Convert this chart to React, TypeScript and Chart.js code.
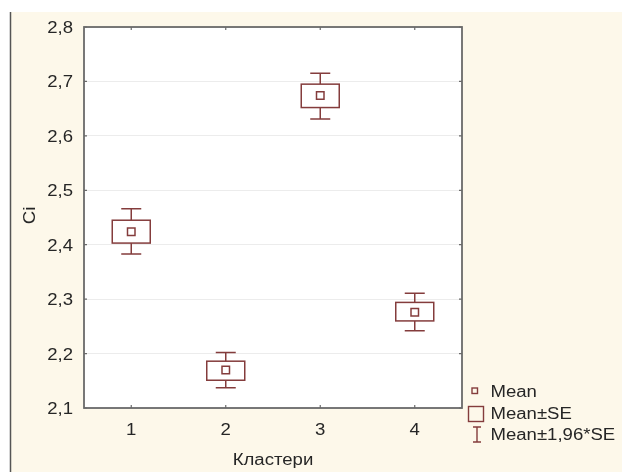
import React, { useEffect, useRef } from "react";
import { Chart, registerables } from "chart.js";

Chart.register(...registerables);

const categories = ["1", "2", "3", "4"];
const means = [2.424, 2.17, 2.674, 2.276];
const seLow = [2.403, 2.151, 2.652, 2.26];
const seHigh = [2.445, 2.186, 2.695, 2.294];
const ciLow = [2.383, 2.137, 2.631, 2.242];
const ciHigh = [2.466, 2.202, 2.715, 2.311];
const legendLabels = ["Mean", "Mean±SE", "Mean±1,96*SE"];
const yTitle = "Ci";
const xTitle = "Кластери";

const MARK = "#843c3c";
const CREAM = "#fdf8ea";
const TEXT = "#262626";
const FONT = "16px 'Liberation Sans', Arial, sans-serif";
const SX = 1.16;

function drawText(ctx: CanvasRenderingContext2D, s: string, x: number, y: number, align: "left" | "center" | "right") {
  ctx.save();
  ctx.font = FONT;
  ctx.fillStyle = TEXT;
  ctx.textBaseline = "alphabetic";
  ctx.textAlign = align;
  ctx.translate(x, y);
  ctx.scale(SX, 1);
  ctx.fillText(s, 0, 0);
  ctx.restore();
}

export default function App() {
  const ref = useRef<HTMLCanvasElement | null>(null);

  useEffect(() => {
    const canvas = ref.current;
    if (!canvas) return;

    const decor = {
      id: "decor",
      beforeDraw(chart: any) {
        const { ctx, chartArea } = chart;
        ctx.save();
        ctx.fillStyle = "#ffffff";
        ctx.fillRect(0, 0, 622, 472);
        ctx.fillStyle = CREAM;
        ctx.fillRect(10, 12, 612, 460);
        ctx.strokeStyle = "#555555";
        ctx.lineWidth = 1.5;
        ctx.beginPath();
        ctx.moveTo(10.5, 12);
        ctx.lineTo(10.5, 472);
        ctx.stroke();
        ctx.fillStyle = "#ffffff";
        ctx.fillRect(chartArea.left, chartArea.top, chartArea.right - chartArea.left, chartArea.bottom - chartArea.top);
        ctx.restore();
      },
      beforeDatasetsDraw(chart: any) {
        const { ctx } = chart;
        const xs = chart.scales.x;
        const ys = chart.scales.y;
        ctx.save();
        ctx.strokeStyle = MARK;
        ctx.lineWidth = 1.5;
        categories.forEach((_, i) => {
          const x = xs.getPixelForValue(i);
          const yCiH = ys.getPixelForValue(ciHigh[i]);
          const yCiL = ys.getPixelForValue(ciLow[i]);
          const ySeH = ys.getPixelForValue(seHigh[i]);
          const ySeL = ys.getPixelForValue(seLow[i]);
          const bw = 38;
          const cw = 20;
          ctx.beginPath();
          ctx.moveTo(x, yCiH);
          ctx.lineTo(x, ySeH);
          ctx.moveTo(x, ySeL);
          ctx.lineTo(x, yCiL);
          ctx.moveTo(x - cw / 2, yCiH);
          ctx.lineTo(x + cw / 2, yCiH);
          ctx.moveTo(x - cw / 2, yCiL);
          ctx.lineTo(x + cw / 2, yCiL);
          ctx.stroke();
          ctx.fillStyle = "#ffffff";
          ctx.fillRect(x - bw / 2, ySeH, bw, ySeL - ySeH);
          ctx.strokeRect(x - bw / 2, ySeH, bw, ySeL - ySeH);
        });
        ctx.restore();
      },
      afterDraw(chart: any) {
        const { ctx, chartArea } = chart;
        const xs = chart.scales.x;
        const ys = chart.scales.y;
        ctx.save();
        // frame
        ctx.strokeStyle = "#6a6a6a";
        ctx.lineWidth = 1.8;
        ctx.strokeRect(chartArea.left, chartArea.top, chartArea.right - chartArea.left, chartArea.bottom - chartArea.top);
        // inner ticks
        ctx.lineWidth = 1.2;
        ctx.beginPath();
        ys.ticks.forEach((t: any) => {
          const y = ys.getPixelForValue(t.value);
          ctx.moveTo(chartArea.left, y);
          ctx.lineTo(chartArea.left + 3, y);
          ctx.moveTo(chartArea.right, y);
          ctx.lineTo(chartArea.right - 3, y);
        });
        categories.forEach((_, i) => {
          const x = xs.getPixelForValue(i);
          ctx.moveTo(x, chartArea.bottom);
          ctx.lineTo(x, chartArea.bottom - 3);
          ctx.moveTo(x, chartArea.top);
          ctx.lineTo(x, chartArea.top + 3);
        });
        ctx.stroke();
        // tick labels
        ys.ticks.forEach((t: any) => {
          const y = ys.getPixelForValue(t.value);
          drawText(ctx, Number(t.value).toFixed(1).replace(".", ","), chartArea.left - 11, y + 6, "right");
        });
        categories.forEach((c, i) => {
          drawText(ctx, c, xs.getPixelForValue(i), chartArea.bottom + 27, "center");
        });
        // axis titles
        drawText(ctx, xTitle, (chartArea.left + chartArea.right) / 2, 465, "center");
        ctx.save();
        ctx.translate(35, (chartArea.top + chartArea.bottom) / 2 - 2);
        ctx.rotate(-Math.PI / 2);
        drawText(ctx, yTitle, 0, 0, "center");
        ctx.restore();
        // legend
        const lx = 490.5;
        const rows = [397, 418.5, 440];
        legendLabels.forEach((lab, i) => drawText(ctx, lab, lx, rows[i], "left"));
        ctx.strokeStyle = MARK;
        ctx.lineWidth = 1.4;
        ctx.strokeRect(472, 388, 5.5, 5.5);
        ctx.strokeRect(468.5, 406.5, 15, 15);
        ctx.beginPath();
        ctx.moveTo(477, 427);
        ctx.lineTo(477, 442);
        ctx.moveTo(473, 427);
        ctx.lineTo(481, 427);
        ctx.moveTo(473, 442);
        ctx.lineTo(481, 442);
        ctx.stroke();
        ctx.restore();
      },
    };

    const chart = new Chart(canvas, {
      type: "line",
      data: {
        labels: categories,
        datasets: [
          {
            label: legendLabels[0],
            data: means,
            showLine: false,
            pointStyle: "rect",
            pointRadius: 5.3,
            pointBorderWidth: 1.5,
            pointBorderColor: MARK,
            pointBackgroundColor: "#ffffff",
          },
        ],
      },
      options: {
        responsive: false,
        animation: false,
        devicePixelRatio: 1,
        layout: { padding: { left: 0, top: 27, right: 160, bottom: 0 } },
        plugins: { legend: { display: false }, tooltip: { enabled: false } },
        scales: {
          x: {
            type: "category",
            offset: true,
            grid: { display: false, drawTicks: false },
            border: { display: false },
            ticks: { display: false },
            afterFit(scale: any) {
              scale.height = 64;
            },
          },
          y: {
            min: 2.1,
            max: 2.8,
            grid: { color: "#ececec", lineWidth: 1, drawTicks: false },
            border: { display: false },
            ticks: { stepSize: 0.1, display: false },
            afterFit(scale: any) {
              scale.width = 84;
            },
          },
        },
      },
      plugins: [decor],
    });
    return () => chart.destroy();
  }, []);

  return (
    <div style={{ position: "absolute", left: 0, top: 0, width: 622, height: 472 }}>
      <canvas ref={ref} width={622} height={472} style={{ width: 622, height: 472, display: "block" }} />
    </div>
  );
}
